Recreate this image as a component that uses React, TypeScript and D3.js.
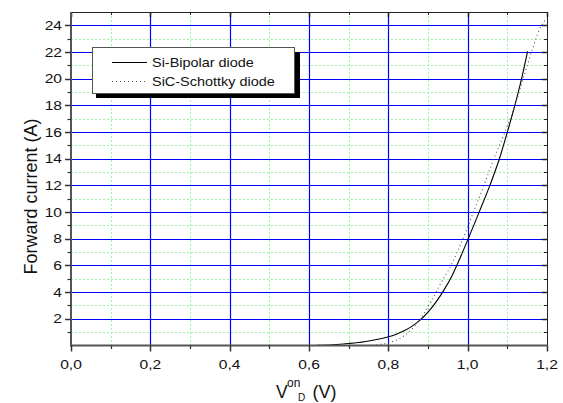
import React from "react";
import * as d3 from "d3";

const W = 563;
const H = 403;

const xMajorTicks = [0, 0.2, 0.4, 0.6, 0.8, 1.0, 1.2];
const xMinorTicks = [0.1, 0.3, 0.5, 0.7, 0.9, 1.1];
const yMajorTicks = [2, 4, 6, 8, 10, 12, 14, 16, 18, 20, 22, 24];
const yMinorTicks = [1, 3, 5, 7, 9, 11, 13, 15, 17, 19, 21, 23];

const seriesNames = ["Si-Bipolar diode", "SiC-Schottky diode"];

const siV = [0.62, 0.66, 0.70, 0.74, 0.78, 0.80, 0.82, 0.84, 0.86, 0.88, 0.90, 0.92, 0.94, 0.96, 0.98, 1.00, 1.029, 1.056, 1.080, 1.100, 1.119, 1.136, 1.151];
const siI = [0.02, 0.06, 0.15, 0.28, 0.5, 0.65, 0.85, 1.1, 1.45, 1.9, 2.5, 3.25, 4.15, 5.2, 6.5, 7.9, 10.0, 12.0, 14.0, 16.0, 18.0, 20.0, 22.05];

const scV = [0.74, 0.77, 0.80, 0.829, 0.855, 0.881, 0.908, 0.932, 0.958, 0.978, 0.995, 1.012, 1.041, 1.066, 1.094, 1.119, 1.140, 1.161, 1.186, 1.199];
const scI = [0.0, 0.05, 0.2, 0.53, 1.1, 2.0, 3.3, 4.65, 6.0, 7.3, 8.5, 9.8, 12.0, 14.0, 16.0, 18.0, 20.0, 22.0, 24.0, 24.5];

const fmt = (v: number) => v.toFixed(1).replace(".", ",");

export default function App() {
  const left = 71, right = 547, top = 12, bottom = 345.5;
  const x = d3.scaleLinear().domain([0, 1.2]).range([left, right]);
  const y = d3.scaleLinear().domain([0, 25]).range([bottom, top]);

  const line = d3
    .line<[number, number]>()
    .x((d) => x(d[0]))
    .y((d) => y(d[1]))
    .curve(d3.curveMonotoneX);

  const siPts: [number, number][] = siV.map((v, i) => [v, siI[i]]);
  const scPts: [number, number][] = scV.map((v, i) => [v, scI[i]]);

  const font = "Liberation Sans, Arial, sans-serif";
  const px = (v: number) => Math.round(v) + 0.5;

  return (
    <svg
      width={W}
      height={H}
      style={{ position: "absolute", left: 0, top: 0, background: "#fff" }}
      fontFamily={font}
    >
      <rect x={0} y={0} width={W} height={H} fill="#fff" />
      {/* minor grid */}
      {xMinorTicks.map((t) => (
        <line key={"xg" + t} x1={px(x(t))} x2={px(x(t))} y1={top} y2={bottom} stroke="#9cf59c" strokeWidth={1} strokeDasharray="2,2" />
      ))}
      {yMinorTicks.map((t) => (
        <line key={"yg" + t} x1={left} x2={right} y1={px(y(t))} y2={px(y(t))} stroke="#9cf59c" strokeWidth={1} strokeDasharray="2,2" />
      ))}
      {/* major grid */}
      {xMajorTicks.slice(1, -1).map((t) => (
        <line key={"xG" + t} x1={px(x(t))} x2={px(x(t))} y1={top} y2={bottom} stroke="#0000ff" strokeWidth={1.2} />
      ))}
      {yMajorTicks.map((t) => (
        <line key={"yG" + t} x1={left} x2={right} y1={px(y(t))} y2={px(y(t))} stroke="#0000ff" strokeWidth={1.2} />
      ))}

      {/* curves */}
      <path d={line(siPts) || ""} fill="none" stroke="#000" strokeWidth={1.1} />
      <path d={line(scPts) || ""} fill="none" stroke="#555" strokeWidth={1.1} strokeDasharray="1,3" />

      {/* frame top/right */}
      <line x1={left} x2={right} y1={px(top)} y2={px(top)} stroke="#222" strokeWidth={1} />
      <line x1={px(right)} x2={px(right)} y1={top} y2={bottom} stroke="#222" strokeWidth={1} />
      {xMajorTicks.map((t) => (
        <line key={"tt" + t} x1={px(x(t))} x2={px(x(t))} y1={top} y2={top + 5} stroke="#222" strokeWidth={1.5} />
      ))}
      {xMinorTicks.map((t) => (
        <line key={"tm" + t} x1={px(x(t))} x2={px(x(t))} y1={top} y2={top + 3} stroke="#222" strokeWidth={1} />
      ))}
      {yMajorTicks.map((t) => (
        <line key={"rt" + t} x1={right - 5} x2={right} y1={px(y(t))} y2={px(y(t))} stroke="#222" strokeWidth={1.5} />
      ))}
      {yMinorTicks.map((t) => (
        <line key={"rm" + t} x1={right - 3} x2={right} y1={px(y(t))} y2={px(y(t))} stroke="#222" strokeWidth={1} />
      ))}

      {/* left axis */}
      <line x1={left} x2={left} y1={top} y2={bottom + 1} stroke="#555" strokeWidth={2} />
      {yMajorTicks.map((t) => (
        <line key={"lt" + t} x1={left - 6} x2={left} y1={px(y(t))} y2={px(y(t))} stroke="#333" strokeWidth={1.5} />
      ))}
      {yMinorTicks.map((t) => (
        <line key={"lm" + t} x1={left - 3.5} x2={left} y1={px(y(t))} y2={px(y(t))} stroke="#333" strokeWidth={1.2} />
      ))}
      {yMajorTicks.map((t) => (
        <text
          key={"ly" + t}
          transform={`translate(62, ${y(t) + 4.6}) scale(1.2, 1)`}
          fontSize={13}
          textAnchor="end"
          fill="#111"
        >
          {t}
        </text>
      ))}

      {/* bottom axis */}
      <line x1={left - 1} x2={right} y1={bottom} y2={bottom} stroke="#555" strokeWidth={2} />
      {xMajorTicks.map((t) => (
        <line key={"bt" + t} x1={px(x(t))} x2={px(x(t))} y1={bottom} y2={bottom + 6} stroke="#333" strokeWidth={1.5} />
      ))}
      {xMinorTicks.map((t) => (
        <line key={"bm" + t} x1={px(x(t))} x2={px(x(t))} y1={bottom} y2={bottom + 3.5} stroke="#333" strokeWidth={1.2} />
      ))}
      {xMajorTicks.map((t) => (
        <text
          key={"bx" + t}
          transform={`translate(${x(t)}, 369) scale(1.2, 1)`}
          fontSize={13}
          textAnchor="middle"
          fill="#111"
        >
          {fmt(t)}
        </text>
      ))}

      {/* axis titles */}
      <text
        transform={`translate(37, 196.5) rotate(-90)`}
        fontSize={18}
        textAnchor="middle"
        fill="#111"
      >
        Forward current (A)
      </text>
      <text x={276} y={398} fontSize={17.5} fill="#111">V</text>
      <text x={287} y={386.5} fontSize={12} fill="#111">on</text>
      <text x={298} y={401} fontSize={10} fill="#111">D</text>
      <text x={312.5} y={398} fontSize={18} fill="#111">(V)</text>

      {/* legend */}
      <rect x={96} y={52} width={204} height={46} fill="#000" />
      <rect x={92.5} y={47.5} width={202} height={46} fill="#fff" stroke="#555" strokeWidth={1} />
      <line x1={112} x2={147} y1={62.5} y2={62.5} stroke="#000" strokeWidth={1.1} />
      <line x1={112} x2={147} y1={81.5} y2={81.5} stroke="#555" strokeWidth={1.1} strokeDasharray="1,3" />
      <text transform="translate(152, 67) scale(1.07, 1)" fontSize={13.5} fill="#111">{seriesNames[0]}</text>
      <text transform="translate(152, 86) scale(1.07, 1)" fontSize={13.5} fill="#111">{seriesNames[1]}</text>
    </svg>
  );
}
